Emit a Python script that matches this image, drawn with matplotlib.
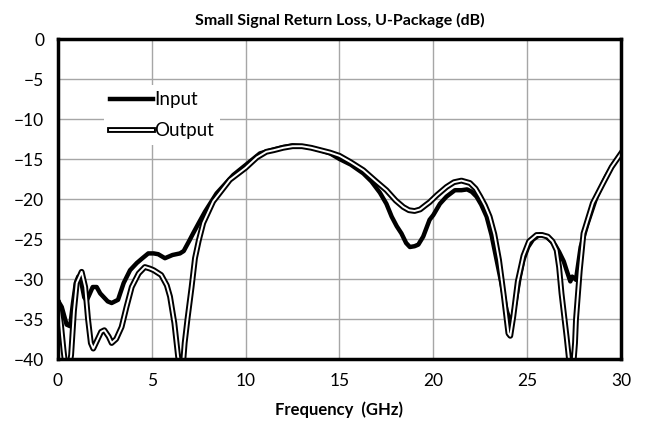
import matplotlib
matplotlib.use('Agg')
import matplotlib.pyplot as plt
import matplotlib.patheffects as pe

plt.rcParams['font.family'] = ['Lato', 'DejaVu Sans']
plt.rcParams['font.size'] = 12

# Input return loss (dB) vs frequency (GHz)
freq_in = [0, 0.2, 0.46, 0.65, 0.8, 0.95, 1.08, 1.25, 1.4, 1.53, 1.7, 1.85, 2.06, 2.25, 2.41,
           2.65, 2.86, 3.2, 3.5, 3.84, 4.2, 4.5, 4.81, 5.1, 5.34, 5.7, 6.1, 6.5, 6.7, 7.0,
           7.2, 7.5, 7.83, 8.45, 9.34, 10.0, 10.76, 11.5, 12.0, 12.5, 13.0, 13.5, 14.0, 14.5,
           15.0, 15.6, 16.27, 16.7, 17.15, 17.5, 17.78, 18.05, 18.3, 18.55, 18.75, 19.0, 19.2,
           19.46, 19.8, 20.0, 20.35, 20.7, 21.15, 21.5, 21.8, 22.05, 22.3, 22.55, 22.84, 23.1,
           23.37, 23.65, 23.9, 24.15, 24.4, 24.6, 24.8, 25.05, 25.3, 25.7, 25.95, 26.2, 26.5,
           26.7, 26.95, 27.1, 27.3, 27.4, 27.6, 27.85, 28.2, 28.7, 29.2, 29.6, 30.0]
rl_in = [-32.7, -33.5, -35.7, -35.9, -33.0, -30.5, -29.7, -30.5, -32.3, -32.7, -31.8, -31.0,
         -31.0, -31.8, -32.2, -32.8, -33.0, -32.6, -30.5, -28.9, -28.0, -27.4, -26.8, -26.8,
         -26.9, -27.4, -27.0, -26.8, -26.5, -25.2, -24.3, -23.0, -21.6, -19.3, -17.0, -15.75,
         -14.3, -13.8, -13.5, -13.3, -13.4, -13.6, -13.9, -14.3, -15.0, -15.7, -16.8, -17.8,
         -19.2, -20.6, -22.2, -23.4, -24.3, -25.5, -26.0, -25.9, -25.7, -24.7, -22.6, -22.0,
         -20.6, -19.7, -18.9, -18.9, -18.8, -19.1, -19.7, -20.7, -22.2, -24.5, -27.6, -30.8,
         -33.9, -35.7, -32.6, -29.8, -27.6, -26.0, -25.1, -24.4, -24.6, -25.1, -25.8, -26.6,
         -27.8, -28.9, -30.3, -29.7, -30.1, -26.0, -23.2, -19.7, -17.2, -15.6, -14.3]

# Output return loss (dB) vs frequency (GHz)
freq_out = [0, 0.15, 0.3, 0.4, 0.6, 0.7, 0.85, 1.0, 1.26, 1.45, 1.6, 1.75, 1.88, 2.1, 2.3,
            2.47, 2.7, 2.86, 3.1, 3.39, 3.65, 3.93, 4.3, 4.63, 4.9, 5.1, 5.5, 5.8, 5.97, 6.2,
            6.4, 6.5, 6.65, 6.75, 6.9, 7.12, 7.3, 7.5, 7.74, 8.27, 9.16, 10.0, 10.6, 11.1,
            11.5, 12.0, 12.5, 13.0, 13.5, 14.0, 14.5, 15.0, 15.6, 16.27, 16.9, 17.5, 18.0,
            18.4, 18.7, 19.0, 19.3, 19.6, 19.8, 20.2, 20.7, 21.1, 21.5, 21.95, 22.25, 22.5,
            22.75, 23.0, 23.25, 23.5, 23.75, 24.0, 24.1, 24.26, 24.5, 24.8, 25.1, 25.5, 25.8,
            26.1, 26.35, 26.57, 26.7, 26.83, 27.1, 27.25, 27.45, 27.55, 27.6, 27.8, 28.0,
            28.5, 29.05, 29.5, 30.0]
rl_out = [-33.0, -35.5, -39.0, -41.0, -41.0, -39.5, -34.0, -30.5, -29.1, -31.0, -35.0, -38.0,
          -38.7, -37.6, -36.6, -36.4, -37.2, -38.0, -37.5, -36.0, -33.5, -31.0, -29.3, -28.5,
          -28.7, -28.9, -29.5, -30.8, -32.2, -35.5, -39.7, -41.0, -41.0, -38.0, -35.0, -31.0,
          -27.4, -25.2, -23.0, -20.3, -17.6, -16.1, -14.8, -14.1, -13.9, -13.6, -13.4, -13.4,
          -13.6, -13.9, -14.2, -14.6, -15.4, -16.4, -17.7, -18.9, -20.2, -21.0, -21.4, -21.5,
          -21.3, -20.75, -20.4, -19.5, -18.5, -17.9, -17.7, -18.0, -18.7, -19.7, -20.8, -22.2,
          -24.4, -27.6, -32.0, -36.8, -37.1, -34.7, -30.3, -27.1, -25.3, -24.5, -24.5, -24.7,
          -25.3, -26.4, -28.5, -31.8, -37.2, -40.5, -41.0, -38.0, -35.1, -29.0, -24.3, -20.5,
          -18.0, -16.0, -14.3]

fig = plt.figure(figsize=(6.45, 4.3), dpi=100)
ax = fig.add_axes([0.0899, 0.1651, 0.8729, 0.7442])

ax.plot(freq_in, rl_in, color='black', lw=3.2, label='Input', solid_joinstyle='round')
ax.plot(freq_out, rl_out, color='white', lw=1.4, label='Output',
        path_effects=[pe.Stroke(linewidth=4.2, foreground='black'), pe.Normal()])

ax.set_xlim(0, 30)
ax.set_ylim(-40, 0)
ax.set_xticks(range(0, 31, 5))
ax.set_yticks(range(-40, 1, 5))
ax.grid(True, color='#a6a6a6', lw=1)
ax.set_axisbelow(True)
ax.tick_params(length=0, pad=10, labelsize=12.5)
for s in ax.spines.values():
    s.set_linewidth(2.5)
    s.set_color('black')

ax.set_title('Small Signal Return Loss, U-Package (dB)', fontsize=11.5, fontweight='bold', pad=10)
ax.set_xlabel('Frequency  (GHz)', fontsize=12, fontweight='bold', labelpad=9)

leg = ax.legend(loc='upper left', bbox_to_anchor=(0.065, 0.884), frameon=True, fancybox=False,
                edgecolor='none', facecolor='white', framealpha=1, fontsize=13.5,
                handlelength=2.3, handletextpad=0.1, labelspacing=0.75, borderpad=0.3)

fig.savefig('out.png', dpi=100)
